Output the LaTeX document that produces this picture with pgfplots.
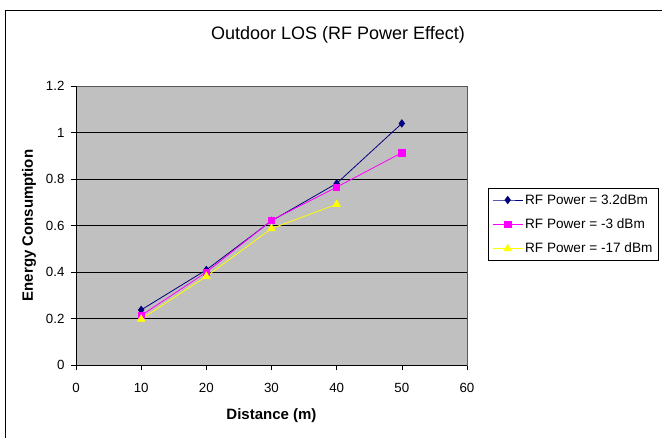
\documentclass[border=0pt]{standalone}
\usepackage{pgfplots}
\pgfplotsset{compat=1.18}
\usepackage{fontspec}
\setmainfont{Liberation Sans}

\definecolor{plotgray}{HTML}{C0C0C0}
\definecolor{navy}{HTML}{000080}
\definecolor{pinkm}{HTML}{FF00FF}
\definecolor{yell}{HTML}{FFFF00}

\begin{document}
\begin{tikzpicture}[x=1pt,y=1pt]
\useasboundingbox (0,0) rectangle (662,437);
% chart frame (only left and top edges show)
\draw[black, line width=0.8pt] (5,-20) -- (5,427) -- (700,427);
\node[font=\fontsize{18}{20}\selectfont] at (338,402) {Outdoor LOS (RF Power Effect)};

\begin{axis}[
    at={(76pt,72pt)}, anchor=south west,
    width=391pt, height=279pt, scale only axis,
    xmin=0, xmax=60, ymin=0, ymax=1.2,
    xtick={0,10,...,60},
    ytick={0,0.2,0.4,0.6,0.8,1,1.2},
    axis background/.style={fill=plotgray},
    axis line style={gray!70!black, line width=0.6pt},
    ymajorgrids,
    major grid style={black, line width=0.9pt},
    tick align=outside, major tick length=5pt,
    tick style={black, line width=0.6pt},
    xtick pos=bottom, ytick pos=left,
    /pgf/number format/assume math mode=true,
    ticklabel style={font=\fontsize{13.3}{15}\selectfont},
    xticklabel style={yshift=-10pt},
    yticklabel style={xshift=-3pt},
    xlabel={\bfseries Distance (m)},
    ylabel={\bfseries Energy Consumption},
    label style={font=\fontsize{15}{17}\selectfont},
    xlabel style={at={(axis description cs:0.5,-0.183)}, anchor=center},
    ylabel style={at={(axis description cs:-0.120,0.5)}, anchor=center},
    legend style={
        at={(1.054,0.634)}, anchor=north west,
        draw=black, fill=white,
        font=\fontsize{13.6}{15}\selectfont,
        row sep=9pt, inner sep=4pt,
    },
    legend cell align=left,
    legend image code/.code={
        \draw[mark repeat=2,mark phase=2] plot coordinates {(0pt,0pt) (15pt,0pt) (30pt,0pt)};
    },
]
\addplot[navy, line width=0.8pt, mark=diamond*, mark size=3.6pt] coordinates {
    (10,0.237) (20,0.409) (30,0.620) (40,0.781) (50,1.039)
};
\addlegendentry{RF Power = 3.2dBm}
\addplot[pinkm, line width=0.8pt, mark=square*, mark size=3.2pt] coordinates {
    (10,0.213) (20,0.399) (30,0.622) (40,0.765) (50,0.913)
};
\addlegendentry{RF Power = -3 dBm}
\addplot[yell, line width=0.8pt, mark=triangle*, mark size=4.2pt] coordinates {
    (10,0.197) (20,0.381) (30,0.587) (40,0.691)
};
\addlegendentry{RF Power = -17 dBm}
\draw[black, line width=0.8pt] (rel axis cs:0,1) -- (rel axis cs:0,0) -- (rel axis cs:1,0);
\end{axis}
\end{tikzpicture}
\end{document}
